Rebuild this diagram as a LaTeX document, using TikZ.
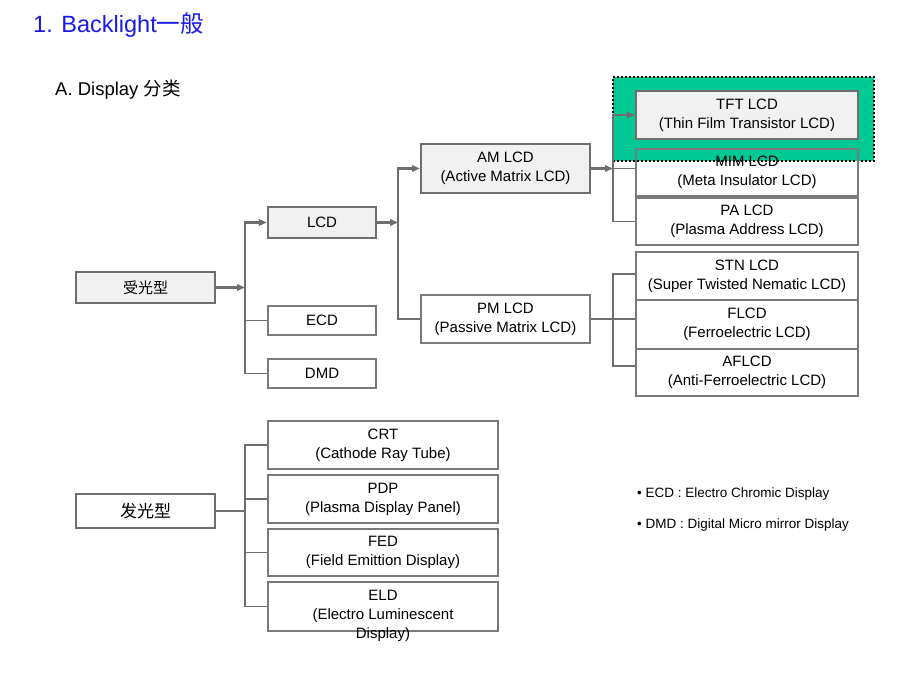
\documentclass[tikz,border=0pt]{standalone}
\usepackage{fontspec}
\setmainfont{Liberation Sans}
\newfontfamily\cjk{Noto Sans CJK SC}
\usetikzlibrary{arrows.meta,calc}
\definecolor{lnc}{HTML}{6E6E6E}
\definecolor{bxc}{HTML}{7A7A7A}
\definecolor{fillc}{HTML}{F1F1F1}
\definecolor{grn}{HTML}{00C994}
\definecolor{ttl}{HTML}{1A1AE6}
\tikzset{
  box/.style={draw=bxc, line width=1.1pt, fill=white, minimum width=#1, inner sep=0pt, align=center,
    font=\fontsize{15}{19}\selectfont},
  hbox/.style={box=#1, draw=lnc, line width=2.2pt, fill=fillc},
  thn/.style={draw=lnc, line width=1.1pt},
  thk/.style={draw=lnc, line width=2.2pt},
  arr/.style={-{Triangle[length=8pt,width=6.5pt]}},
  txt/.style={inner sep=0pt, align=center, font=\fontsize{15}{19}\selectfont},
  note/.style={inner sep=0pt, anchor=west, font=\fontsize{13.5}{15}\selectfont}
}
\begin{document}
\begin{tikzpicture}[x=1pt,y=-1pt]
\useasboundingbox (0,0) rectangle (920,690);
% titles
\node[inner sep=0pt, anchor=west, text=ttl, font=\fontsize{23.5}{26}\selectfont] (title) at (33,25) {1. Backlight{\cjk 一般}};
\node[inner sep=0pt, anchor=west, font=\fontsize{18.5}{22}\selectfont] (sub) at (55,90) {A. Display {\cjk 分类}};
% green highlight
\node[draw=black, line width=2pt, dotted, fill=grn, minimum width=261pt, minimum height=84pt, inner sep=0pt] (hl) at (743.5,119) {};
% level 1
\node[hbox=139pt, minimum height=31pt] (r) at (145.5,287.5) {\cjk 受光型};
\node[box=139pt, minimum height=34pt, line width=2.2pt, draw=lnc, font=\fontsize{17}{20}\selectfont] (e) at (145.5,511) {\cjk 发光型};
% level 2
\node[hbox=108pt, minimum height=31pt] (lcd) at (322,222.5) {LCD};
\node[box=108pt, minimum height=29pt] (ecd) at (322,320.5) {ECD};
\node[box=108pt, minimum height=29pt] (dmd) at (322,373.5) {DMD};
% level 3
\node[hbox=169pt, minimum height=49pt] (am) at (505.5,168.5) {AM LCD\\(Active Matrix LCD)};
\node[box=169pt, minimum height=48pt] (pm) at (505.5,319) {PM LCD\\(Passive Matrix LCD)};
% level 4
\node[hbox=222pt, minimum height=48pt] (tft) at (747,115) {TFT LCD\\(Thin Film Transistor LCD)};
\node[box=222pt, minimum height=47pt, fill=none] (mim) at (747,172.5) {MIM LCD\\(Meta Insulator LCD)};
\node[box=222pt, minimum height=47pt] (pa) at (747,221.5) {PA LCD\\(Plasma Address LCD)};
\node[box=222pt, minimum height=48pt] (stn) at (747,276) {STN LCD\\(Super Twisted Nematic LCD)};
\node[box=222pt, minimum height=49pt] (flcd) at (747,324.5) {FLCD\\(Ferroelectric LCD)};
\node[box=222pt, minimum height=47pt] (aflcd) at (747,372.5) {AFLCD\\(Anti-Ferroelectric LCD)};
% emissive
\node[box=230pt, minimum height=48pt] (crt) at (383,445) {CRT\\(Cathode Ray Tube)};
\node[box=230pt, minimum height=48pt] (pdp) at (383,499) {PDP\\(Plasma Display Panel)};
\node[box=230pt, minimum height=47pt] (fed) at (383,552.5) {FED\\(Field Emittion Display)};
\node[box=230pt, minimum height=49pt] (eld) at (383,606.5) {};
\node[txt] (eldt) at (383,615.5) {ELD\\(Electro Luminescent\\Display)};
% trunk coordinates
\coordinate (t1) at (245,287.5);
\coordinate (t2) at (398,222.5);
\coordinate (t3) at (613,168.5);
\coordinate (t4) at (613,319);
\coordinate (t5) at (245,511);
% connectors: receptive
\draw[thk,arr] (r.east) -- (t1);
\draw[thk,arr] (t1) |- (lcd.west);
\draw[thn] (t1) |- (ecd.west);
\draw[thn] (t1) |- (dmd.west);
% LCD
\draw[thk,arr] (lcd.east) -- (t2);
\draw[thk,arr] (t2) |- (am.west);
\draw[thn] (t2) |- (pm.west);
% AM
\draw[thn] (t3) -- (t3 -| mim.west);
\draw[thn] (t3) |- (pa.west);
\draw[thk,arr] (am.east) -- (t3);
\draw[thk,arr] (t3) |- (tft.west);
% PM
\draw[thn] (pm.east) -- (t4);
\draw[thn] (t4) |- ($(stn.west)+(0,-2)$);
\draw[thn] (t4) -- (t4 -| flcd.west);
\draw[thn] (t4) |- ($(aflcd.west)+(0,-6.5)$);
% emissive
\draw[thn] (e.east) -- (t5);
\draw[thn] (t5) |- (crt.west);
\draw[thn] (t5) |- (pdp.west);
\draw[thn] (t5) |- (fed.west);
\draw[thn] (t5) |- (eld.west);
% notes
\node[note] (n1) at (637,494) {\textbullet\ ECD : Electro Chromic Display};
\node[note] (n2) at (637,525) {\textbullet\ DMD : Digital Micro mirror Display};
\end{tikzpicture}
\end{document}
